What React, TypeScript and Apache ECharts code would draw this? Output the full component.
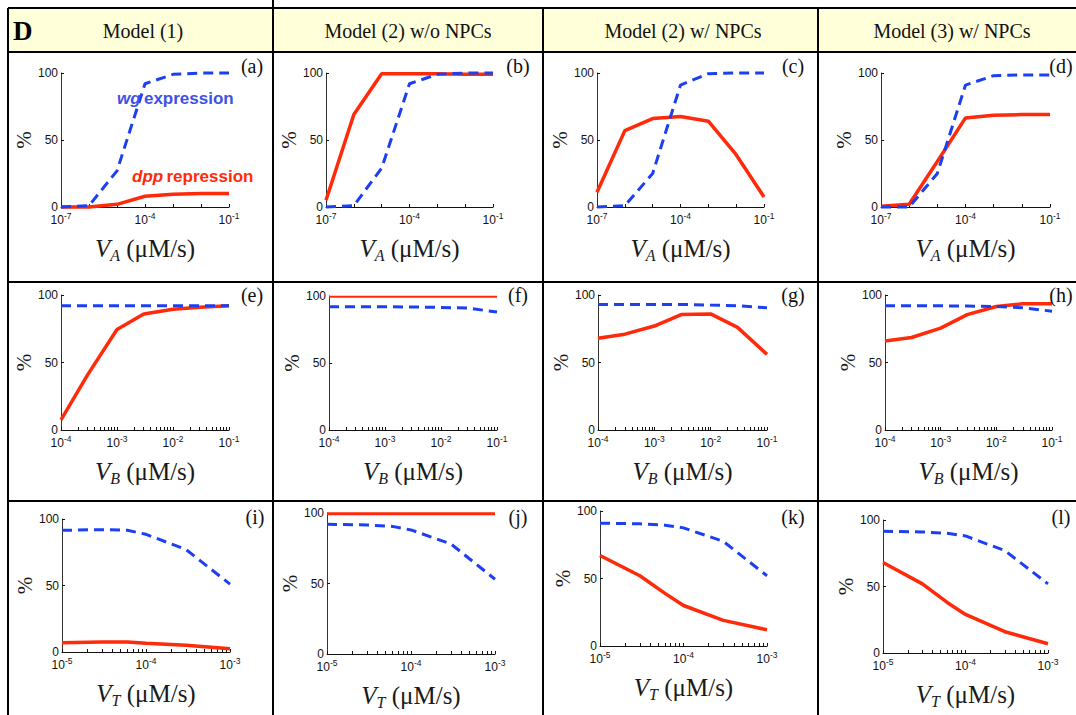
import React, { useEffect, useRef } from "react";
import * as echarts from "echarts";

// ---------- data ----------
const VA = [1e-7, 1e-6, 1e-5, 1e-4, 1e-3, 1e-2, 1e-1];
const VB = [1e-4, 3e-4, 1e-3, 3e-3, 1e-2, 3e-2, 1e-1];
const VT = [1e-5, 3e-5, 6e-5, 1e-4, 3e-4, 1e-3];

const dpp_a = [0, 0, 2, 8, 9.5, 10, 10];
const wg_a = [0, 1, 27, 92, 99, 100, 100];
const dpp_b = [5, 69, 99.5, 99.5, 99.5, 99, 99];
const wg_b = [0, 1, 29, 92, 99, 100, 100];
const dpp_c = [11, 57, 66, 67.5, 64, 39, 7.5];
const wg_c = [0, 1, 25, 91, 99.5, 100, 100];
const dpp_d = [0.5, 2, 34, 66.5, 68.5, 69, 69];
const wg_d = [0, 0, 25, 91, 98, 98.5, 98.5];

const dpp_e = [7.5, 41, 74.5, 86, 89.5, 91, 92];
const wg_e = [92, 92, 92, 92, 92, 92, 92];
const dpp_f = [99.5, 99.5, 99.5, 99.5, 99.5, 99.5, 99.5];
const wg_f = [92, 92, 92, 91.8, 91.5, 91, 88];
const dpp_g = [68, 71, 77, 85.5, 86, 76, 56];
const wg_g = [93, 93, 93, 93, 92.5, 92, 90.5];
const dpp_h = [66, 68.5, 75.5, 85.5, 91.5, 93.5, 93.5];
const wg_h = [92, 92, 92, 91.8, 91.5, 90.5, 88];

const dpp_i = [7, 7.5, 7.5, 6.5, 5, 2.5];
const wg_i = [91.5, 92, 91.5, 88.5, 77, 51];
const dpp_j = [99.5, 99.5, 99.5, 99.5, 99.5, 99.5];
const wg_j = [92, 91.5, 90.5, 88, 78, 53];
const dpp_k = [67, 52, 39, 30, 19, 12];
const wg_k = [91, 90.5, 89.5, 87.5, 77.5, 52];
const dpp_l = [68, 52, 38, 29, 16, 7];
const wg_l = [91.5, 91, 90, 88, 77, 52];

const headers = ["Model (1)", "Model (2) w/o NPCs", "Model (2) w/ NPCs", "Model (3) w/ NPCs"];
const yTicks = [0, 50, 100];
const letters = ["a", "b", "c", "d", "e", "f", "g", "h", "i", "j", "k", "l"];

// ---------- layout ----------
const SERIF = "'Liberation Serif', 'Times New Roman', serif";
const SANS = "'Liberation Sans', Arial, sans-serif";
const RED = "#ff2a0a";
const BLUE = "#1c3ff2";

const rows = [
  { xs: VA, lo: -7, hi: -1, labels: [-7, -4, -1], sub: "A", minor: false },
  { xs: VB, lo: -4, hi: -1, labels: [-4, -3, -2, -1], sub: "B", minor: true },
  { xs: VT, lo: -5, hi: -3, labels: [-5, -4, -3], sub: "T", minor: true },
];

const panelData = [
  [dpp_a, wg_a], [dpp_b, wg_b], [dpp_c, wg_c], [dpp_d, wg_d],
  [dpp_e, wg_e], [dpp_f, wg_f], [dpp_g, wg_g], [dpp_h, wg_h],
  [dpp_i, wg_i], [dpp_j, wg_j], [dpp_k, wg_k], [dpp_l, wg_l],
];

const redWidths = [3.5, 3.5, 3.5, 3.5, 3.5, 2, 3.5, 3.5, 3.5, 3, 3.5, 3.5];

// grid rects [left, top, width, height]
const gridRects = [
  [61, 73, 168, 134], [326, 73, 167, 134], [597, 73, 167, 134], [881, 73, 169, 134],
  [61, 295, 168, 135], [329, 296, 168, 134], [598, 295, 169, 135], [885, 295, 167, 135],
  [62, 519, 168, 133], [327, 513, 168, 141], [600, 511, 167, 135], [883, 520, 165, 133],
];

const letterPos = [
  [252, 66], [518, 66], [793, 66], [1061, 66],
  [252, 295], [518, 295], [793, 295], [1061, 295],
  [255, 517], [518, 517], [793, 517], [1061, 517],
];

const headerCenters = [143, 408, 683, 952];

function tickValues(lo: number, hi: number, minor: boolean) {
  const out: number[] = [];
  for (let n = lo; n < hi; n++) {
    if (minor) {
      for (let k = 1; k <= 9; k++) out.push(n + Math.log10(k));
    } else out.push(n);
  }
  out.push(hi);
  return out;
}

function buildOption() {
  const grid: any[] = [];
  const xAxis: any[] = [];
  const yAxis: any[] = [];
  const series: any[] = [];
  const graphic: any[] = [];

  graphic.push({
    type: "rect",
    shape: { x: 8, y: 8, width: 1068, height: 44 },
    style: { fill: "#ffffd9" },
    z: 0,
  });

  panelData.forEach(([dpp, wg], p) => {
    const r = rows[Math.floor(p / 4)];
    const [l, t, w, h] = gridRects[p];
    grid.push({ left: l, top: t, width: w, height: h, outerBoundsMode: "none", containLabel: false });
    xAxis.push({
      gridIndex: p,
      type: "value",
      min: r.lo,
      max: r.hi,
      splitLine: { show: false },
      axisLine: { show: true, onZero: false, lineStyle: { color: "#111", width: 1 } },
      axisTick: { show: true, inside: true, length: 3, customValues: tickValues(r.lo, r.hi, r.minor), lineStyle: { color: "#111" } },
      axisLabel: {
        show: true,
        margin: 4,
        customValues: r.labels,
        formatter: (v: number) => `{b|10}{s|${Math.round(v)}}`,
        rich: {
          b: { fontSize: 12, fontFamily: SANS, color: "#111" },
          s: { fontSize: 8.5, fontFamily: SANS, color: "#111", padding: [0, 0, 8, 0] },
        },
      },
      name: `{v|V}{s|${r.sub}} (μM/s)`,
      nameLocation: "middle",
      nameGap: 26,
      nameTextStyle: {
        fontFamily: SERIF,
        fontSize: 25,
        color: "#1a1a1a",
        rich: {
          v: { fontFamily: SERIF, fontSize: 25, fontStyle: "italic", color: "#1a1a1a" },
          s: { fontFamily: SERIF, fontSize: 16, fontStyle: "italic", color: "#1a1a1a", padding: [14, 0, 0, 0] },
        },
      },
    });
    yAxis.push({
      gridIndex: p,
      type: "value",
      min: 0,
      max: 100,
      interval: 50,
      splitLine: { show: false },
      axisLine: { show: true, onZero: false, lineStyle: { color: "#333", width: 1 } },
      axisTick: { show: true, inside: true, length: 3, lineStyle: { color: "#111" } },
      axisLabel: { show: true, margin: 3, fontSize: 12, fontFamily: SANS, color: "#111", customValues: yTicks },
      name: "%",
      nameLocation: "middle",
      nameRotate: 90,
      nameGap: 24,
      nameTextStyle: { fontFamily: SERIF, fontSize: 21, color: "#1a1a1a" },
    });
    series.push({
      type: "line",
      xAxisIndex: p,
      yAxisIndex: p,
      data: r.xs.map((x, i) => [Math.log10(x), dpp[i]]),
      showSymbol: false,
      clip: false,
      lineStyle: { color: RED, width: redWidths[p] },
      z: 2,
    });
    series.push({
      type: "line",
      xAxisIndex: p,
      yAxisIndex: p,
      data: r.xs.map((x, i) => [Math.log10(x), wg[i]]),
      showSymbol: false,
      clip: false,
      lineStyle: { color: BLUE, width: 3, type: [10, 6] },
      z: 3,
    });
    graphic.push({
      type: "text",
      x: letterPos[p][0],
      y: letterPos[p][1],
      style: {
        text: `(${letters[p]})`,
        font: `20px ${SERIF}`,
        fill: "#111",
        align: "center",
        verticalAlign: "middle",
      },
      z: 10,
    });
  });

  // header texts
  graphic.push({
    type: "text",
    x: 13,
    y: 31,
    style: { text: "D", font: `bold 27px ${SERIF}`, fill: "#000", align: "left", verticalAlign: "middle" },
    z: 10,
  });
  headers.forEach((hd, i) => {
    graphic.push({
      type: "text",
      x: headerCenters[i],
      y: 31,
      style: { text: hd, font: `20px ${SERIF}`, fill: "#111", align: "center", verticalAlign: "middle" },
      z: 10,
    });
  });

  // annotations in panel (a)
  graphic.push({
    type: "text",
    x: 117,
    y: 98,
    style: {
      text: "{i|wg} {n|expression}",
      verticalAlign: "middle",
      rich: {
        i: { font: `italic bold 17px ${SANS}`, fill: "#3d52e6" },
        n: { font: `bold 17px ${SANS}`, fill: "#3d52e6" },
      },
    },
    z: 10,
  });
  graphic.push({
    type: "text",
    x: 132,
    y: 176,
    style: {
      text: "{i|dpp} {n|repression}",
      verticalAlign: "middle",
      rich: {
        i: { font: `italic bold 17px ${SANS}`, fill: "#ff2a0a" },
        n: { font: `bold 17px ${SANS}`, fill: "#ff2a0a" },
      },
    },
    z: 10,
  });

  // table lines
  const L = (x1: number, y1: number, x2: number, y2: number) => ({
    type: "line",
    shape: { x1, y1, x2, y2 },
    style: { stroke: "#000", lineWidth: 2 },
    z: 20,
  });
  graphic.push(L(8, 8, 1076, 8));
  graphic.push(L(8, 52, 1076, 52));
  graphic.push(L(8, 282, 1076, 282));
  graphic.push(L(8, 501, 1076, 501));
  graphic.push(L(8, 8, 8, 715));
  graphic.push(L(273, 0, 273, 715));
  graphic.push(L(543, 8, 543, 715));
  graphic.push(L(818, 8, 818, 715));

  return {
    animation: false,
    backgroundColor: "#ffffff",
    textStyle: { fontFamily: SANS },
    grid,
    xAxis,
    yAxis,
    series,
    graphic,
  };
}

export default function App() {
  const ref = useRef<HTMLDivElement>(null);
  useEffect(() => {
    if (!ref.current) return;
    const chart = echarts.init(ref.current, undefined, { renderer: "svg" });
    chart.setOption(buildOption() as any);
    return () => chart.dispose();
  }, []);
  return (
    <div
      ref={ref}
      style={{ position: "fixed", left: 0, top: 0, width: 1076, height: 715, background: "#fff" }}
    />
  );
}
